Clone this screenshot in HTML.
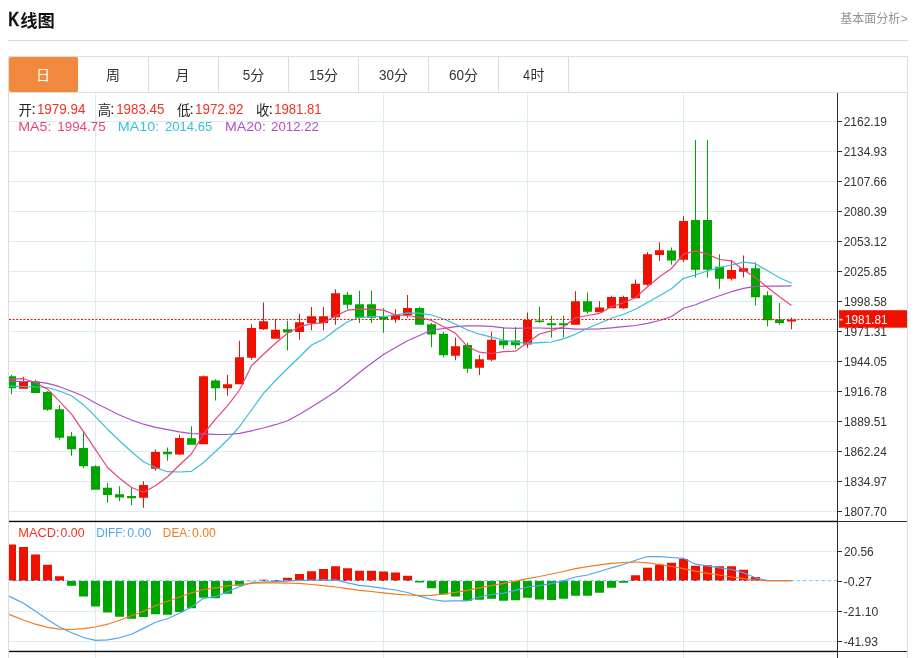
<!DOCTYPE html>
<html lang="zh-CN">
<head>
<meta charset="utf-8">
<title>K线图</title>
<style>
html,body{margin:0;padding:0;background:#fff;}
body{width:918px;height:658px;overflow:hidden;position:relative;font-family:"Liberation Sans",sans-serif;color:#333;}
.hd{position:absolute;left:8px;top:0;width:900px;height:40px;border-bottom:1px solid #d9d9d9;box-sizing:content-box;}
.tabs{position:absolute;left:8px;top:56px;width:898px;height:35px;margin:0;padding:0;list-style:none;border:1px solid #dddddd;}
.tabs li{float:left;width:69px;height:35px;border-right:1px solid #dddddd;}
.tabs li.on{background:#f0883e;border-right-color:#fff;border-radius:2px;width:69.3px;margin-right:-0.3px;}
.chart{position:absolute;left:8px;top:93px;width:898px;height:565px;border-left:1px solid #dddddd;border-right:1px solid #dddddd;}
.sr{position:absolute;width:1px;height:1px;margin:0;padding:0;overflow:hidden;clip:rect(0,0,0,0);white-space:nowrap;color:transparent;font-size:1px;}
.ov{position:absolute;left:0;top:0;will-change:transform;}
</style>
</head>
<body>
<div class="hd"><h2 class="sr">K线图</h2><a class="sr">基本面分析&gt;</a></div>
<ul class="tabs"><li class="on"><span class="sr">日</span></li><li><span class="sr">周</span></li><li><span class="sr">月</span></li><li><span class="sr">5分</span></li><li><span class="sr">15分</span></li><li><span class="sr">30分</span></li><li><span class="sr">60分</span></li><li><span class="sr">4时</span></li></ul>
<div class="chart"><p class="sr">开: 1979.94 高: 1983.45 低: 1972.92 收: 1981.81</p></div>
<svg class="ov" role="img" aria-label="K线图" width="918" height="658" viewBox="0 0 918 658" style="font-family:'Liberation Sans','Noto Sans CJK SC',sans-serif">
<g aria-label="K线图">
<text stroke="#111" stroke-width="0.35" x="8.2" y="25.9" font-size="20" fill="#111" textLength="10.84" lengthAdjust="spacingAndGlyphs" font-weight="bold">K</text>
<text x="20.3" y="26.6" font-size="17.5" font-weight="bold" fill="#111" textLength="34.6" lengthAdjust="spacingAndGlyphs">线图</text>
</g>
<g aria-label="基本面分析&gt;">
<text x="840.2" y="22.9" font-size="12" fill="#929292" textLength="60" lengthAdjust="spacingAndGlyphs">基本面分析</text>
<text x="900.72" y="22.9" font-size="12" fill="#999" textLength="6.85" lengthAdjust="spacingAndGlyphs">&gt;</text>
</g>
<g aria-label="日">
<text x="36" y="80" font-size="14" fill="#ffffff">日</text>
</g>
<g aria-label="周">
<text x="106" y="80" font-size="14" fill="#333333">周</text>
</g>
<g aria-label="月">
<text x="175.5" y="80" font-size="14" fill="#333333">月</text>
</g>
<g aria-label="5分">
<text x="242.81" y="80" font-size="14" fill="#333333" textLength="7.51" lengthAdjust="spacingAndGlyphs">5</text>
<text x="250.3" y="80" font-size="14" fill="#333333">分</text>
</g>
<g aria-label="15分">
<text x="309.07" y="80" font-size="14" fill="#333333" textLength="14.99" lengthAdjust="spacingAndGlyphs">15</text>
<text x="324" y="80" font-size="14" fill="#333333">分</text>
</g>
<g aria-label="30分">
<text x="379.09" y="80" font-size="14" fill="#333333" textLength="14.94" lengthAdjust="spacingAndGlyphs">30</text>
<text x="394" y="80" font-size="14" fill="#333333">分</text>
</g>
<g aria-label="60分">
<text x="448.91" y="80" font-size="14" fill="#333333" textLength="15.12" lengthAdjust="spacingAndGlyphs">60</text>
<text x="464" y="80" font-size="14" fill="#333333">分</text>
</g>
<g aria-label="4时">
<text x="523.06" y="80" font-size="14" fill="#333333" textLength="7.06" lengthAdjust="spacingAndGlyphs">4</text>
<text x="530.6" y="80" font-size="14" fill="#333333">时</text>
</g>
<g fill="#dceaf3"><rect x="9" y="121" width="828" height="1"/><rect x="9" y="151" width="828" height="1"/><rect x="9" y="181" width="828" height="1"/><rect x="9" y="211" width="828" height="1"/><rect x="9" y="241" width="828" height="1"/><rect x="9" y="271" width="828" height="1"/><rect x="9" y="301" width="828" height="1"/><rect x="9" y="331" width="828" height="1"/><rect x="9" y="361" width="828" height="1"/><rect x="9" y="391" width="828" height="1"/><rect x="9" y="421" width="828" height="1"/><rect x="9" y="451" width="828" height="1"/><rect x="9" y="481" width="828" height="1"/><rect x="9" y="511" width="828" height="1"/><rect x="9" y="551" width="828" height="1"/><rect x="9" y="611" width="828" height="1"/><rect x="9" y="641" width="828" height="1"/><rect x="95" y="93" width="1" height="565"/><rect x="383" y="93" width="1" height="565"/><rect x="527" y="93" width="1" height="565"/><rect x="683" y="93" width="1" height="565"/></g>
<defs><clipPath id="cp"><rect x="9" y="93" width="828" height="565"/></clipPath></defs>
<g clip-path="url(#cp)">
<path fill="#ee1100" d="M19 381.7h9V388.7h-9zM23 376.7h1V388.7h-1zM139 485h9V497.8h-9zM143 481.2h1V507.8h-1zM151 452h9V468.8h-9zM155 449.5h1V470.8h-1zM175 438h9V454.5h-9zM179 434.7h1V455h-1zM199 376.3h9V444.2h-9zM203 375.5h1V444.2h-1zM223 384.2h9V388.3h-9zM227 375h1V395.8h-1zM235 357.2h9V384.2h-9zM239 340.8h1V384.2h-1zM247 328h9V357.8h-9zM251 324.2h1V359.7h-1zM259 321.2h9V329.2h-9zM263 302.5h1V330h-1zM271 329.7h9V338.8h-9zM275 318.7h1V338.8h-1zM295 322.2h9V332h-9zM299 313.7h1V339.7h-1zM307 316.3h9V323h-9zM311 307h1V330.3h-1zM319 316.3h9V323h-9zM323 307h1V330.3h-1zM331 293.3h9V317.3h-9zM335 289.2h1V324.7h-1zM391 314.7h9V319.5h-9zM395 309.2h1V322.8h-1zM403 308h9V315.3h-9zM407 295h1V317.8h-1zM451 346.3h9V355.8h-9zM455 337.5h1V360.3h-1zM475 359.2h9V367.8h-9zM479 355h1V375h-1zM487 339.7h9V359.7h-9zM491 331.7h1V361.3h-1zM523 320h9V344.5h-9zM527 312.5h1V347.8h-1zM571 301.3h9V324.7h-9zM575 291.3h1V324.7h-1zM595 307.5h9V312.2h-9zM599 301.2h1V312.2h-1zM607 297h9V308.3h-9zM611 295.8h1V308.3h-1zM619 297h9V308.3h-9zM623 295.8h1V308.8h-1zM631 283.8h9V298.3h-9zM635 279.5h1V298.3h-1zM643 254.2h9V284.7h-9zM647 252.2h1V285.8h-1zM655 250.3h9V255h-9zM659 242.2h1V260.8h-1zM679 221h9V259.7h-9zM683 216.3h1V262h-1zM727 270h9V278.8h-9zM731 260h1V280.5h-1zM739 268.3h9V271.7h-9zM743 255.5h1V277.5h-1zM787 319.4h9V321.5h-9zM791 317.6h1V329.2h-1z"/>
<path fill="#00a600" d="M7 376.2h9V388.3h-9zM11 374.7h1V394.2h-1zM31 381.7h9V393h-9zM35 379.7h1V393h-1zM43 392h9V409.7h-9zM47 391h1V410.7h-1zM55 409.2h9V437.8h-9zM59 405h1V439.7h-1zM67 436.2h9V449.2h-9zM71 432h1V455.8h-1zM79 448h9V466.3h-9zM83 431.3h1V468.3h-1zM91 466.3h9V489.7h-9zM95 465.3h1V489.7h-1zM103 487.8h9V495h-9zM107 483h1V502.8h-1zM115 494.2h9V497.5h-9zM119 486.2h1V501.3h-1zM127 496h9V498.3h-9zM131 487.5h1V505h-1zM163 451.7h9V454.2h-9zM167 447.5h1V460.8h-1zM187 438.2h9V444.8h-9zM191 426.2h1V444.8h-1zM211 380.5h9V388.3h-9zM215 379.2h1V400.5h-1zM283 329.2h9V332.5h-9zM287 320.8h1V350.5h-1zM343 294.7h9V304.7h-9zM347 292h1V309.2h-1zM355 304.2h9V317.7h-9zM359 290.8h1V322.9h-1zM367 304.2h9V317.7h-9zM371 290.8h1V322.9h-1zM379 317h9V319.5h-9zM383 308.3h1V332.8h-1zM415 308h9V324.7h-9zM419 306.7h1V324.7h-1zM427 324.2h9V334.5h-9zM431 323h1V347.2h-1zM439 333.8h9V355.3h-9zM443 331.7h1V357.5h-1zM463 345h9V368.7h-9zM467 342.8h1V373h-1zM499 340.5h9V345.3h-9zM503 327.5h1V348.8h-1zM511 340.5h9V345.3h-9zM515 327h1V348.8h-1zM535 320.5h9V322h-9zM539 306.7h1V323h-1zM547 323.3h9V325.2h-9zM551 315.8h1V337.5h-1zM559 323.3h9V325.2h-9zM563 315.8h1V337.5h-1zM583 301.2h9V311.7h-9zM587 292.5h1V313.7h-1zM667 250.4h9V260.6h-9zM671 247.5h1V264.8h-1zM691 220h9V269.7h-9zM695 140h1V277.5h-1zM703 220h9V269.7h-9zM707 140h1V277.5h-1zM715 266.7h9V278.8h-9zM719 254.2h1V288.7h-1zM751 268.3h9V297.2h-9zM755 262.2h1V305.5h-1zM763 295.3h9V320.3h-9zM767 291.2h1V326.2h-1zM775 319.5h9V323h-9zM779 303h1V324.7h-1z"/>
<polyline fill="none" stroke="#b04fc4" stroke-width="1.2" stroke-linejoin="round" points="-0.5,381.2 11.5,381.3 23.5,381.5 35.5,381.7 47.5,383.3 59.5,386.7 71.5,391.3 83.5,396.3 95.5,403 107.5,409 119.5,415 131.5,420 143.5,424.2 155.5,427.3 167.5,429.6 179.5,431.8 191.5,433.7 203.5,433.8 215.5,434.3 227.5,434.5 239.5,433.3 251.5,430.8 263.5,428 275.5,424.7 287.5,420.8 299.5,414.2 311.5,407 323.5,399.5 335.5,391.7 347.5,382.3 359.5,372.5 371.5,363.3 383.5,354.6 395.5,347.5 407.5,340.8 419.5,335.5 431.5,330 443.5,328.7 455.5,326.7 467.5,325.8 479.5,325.8 491.5,326.3 503.5,327.8 515.5,328.3 527.5,328 539.5,328 551.5,328.3 563.5,328.2 575.5,329.2 587.5,329.2 599.5,328.8 611.5,327.8 623.5,326.7 635.5,325.5 647.5,323.3 659.5,320.5 671.5,316.5 683.5,308.3 695.5,304.7 707.5,300 719.5,295.8 731.5,291.7 743.5,288.3 755.5,286.3 767.5,286.2 779.5,286.2 791.5,285.9"/>
<polyline fill="none" stroke="#35bfd9" stroke-width="1.2" stroke-linejoin="round" points="-0.5,386 11.5,386.2 23.5,386.5 35.5,387 47.5,387.5 59.5,391 71.5,395.8 83.5,404.7 95.5,416.7 107.5,429.2 119.5,440.8 131.5,451.7 143.5,461.7 155.5,467.5 167.5,471.7 179.5,472 191.5,471.3 203.5,462.5 215.5,451.5 227.5,440 239.5,426.7 251.5,410 263.5,393.3 275.5,380.5 287.5,368.5 299.5,357 311.5,345 323.5,339.2 335.5,330 347.5,321.7 359.5,317.3 371.5,316.7 383.5,316.7 395.5,315 407.5,312.8 419.5,313.2 431.5,315 443.5,318.8 455.5,324.2 467.5,330 479.5,334.2 491.5,337.2 503.5,340 515.5,342.2 527.5,343.3 539.5,342.7 551.5,342 563.5,338.9 575.5,334.2 587.5,328.3 599.5,323.3 611.5,318.3 623.5,314.2 635.5,309.2 647.5,302.5 659.5,295.8 671.5,288.8 683.5,278.3 695.5,275 707.5,270.8 719.5,267.5 731.5,265 743.5,262.2 755.5,263.7 767.5,270.8 779.5,277.8 791.5,283.3"/>
<polyline fill="none" stroke="#e8447c" stroke-width="1.2" stroke-linejoin="round" points="-0.5,379.5 11.5,379.2 23.5,378.7 35.5,382.5 47.5,389.2 59.5,401.3 71.5,414.2 83.5,431.7 95.5,449.6 107.5,467.5 119.5,478.3 131.5,487.5 143.5,492.2 155.5,485.8 167.5,476.7 179.5,465 191.5,453.8 203.5,434 215.5,419.2 227.5,405.8 239.5,390 251.5,365.8 263.5,354.2 275.5,343.3 287.5,333.3 299.5,326.7 311.5,323.7 323.5,322.8 335.5,316.1 347.5,310.2 359.5,309.2 371.5,309.4 383.5,310.1 395.5,315 407.5,315.5 419.5,317.3 431.5,320.5 443.5,326.7 455.5,333.3 467.5,346.7 479.5,352.2 491.5,353.5 503.5,351.7 515.5,351.2 527.5,342.5 539.5,334 551.5,330.8 563.5,326.7 575.5,317.8 587.5,315.5 599.5,313.3 611.5,306.7 623.5,302.7 635.5,297.8 647.5,286.7 659.5,276.7 671.5,268.5 683.5,254.2 695.5,250.8 707.5,254.2 719.5,259.5 731.5,260.8 743.5,270 755.5,277.5 767.5,287.5 779.5,296.7 791.5,305.4"/>
<path fill="#ee1100" d="M7 544.5h9V581h-9zM19 547h9V581h-9zM31 554.5h9V581h-9zM43 564.8h9V581h-9zM55 576.2h9V581h-9zM259 579.7h9V581h-9zM271 580h9V581h-9zM283 577.8h9V581h-9zM295 574h9V581h-9zM307 571.2h9V581h-9zM319 569h9V581h-9zM331 566.2h9V581h-9zM343 568.3h9V581h-9zM355 570.7h9V581h-9zM367 570.8h9V581h-9zM379 571.5h9V581h-9zM391 572.5h9V581h-9zM403 575.8h9V581h-9zM631 575.3h9V581h-9zM643 567.8h9V581h-9zM655 564.5h9V581h-9zM667 562.8h9V581h-9zM679 559h9V581h-9zM691 565.8h9V581h-9zM703 565.3h9V581h-9zM715 566.2h9V581h-9zM727 566.2h9V581h-9zM739 569.8h9V581h-9zM751 577h9V581h-9z"/>
<path fill="#00a600" d="M67 581h9V585.8h-9zM79 581h9V596.5h-9zM91 581h9V606.5h-9zM103 581h9V612.5h-9zM115 581h9V616.7h-9zM127 581h9V618.7h-9zM139 581h9V617h-9zM151 581h9V614.2h-9zM163 581h9V614.8h-9zM175 581h9V612h-9zM187 581h9V608.3h-9zM199 581h9V597.8h-9zM211 581h9V598.2h-9zM223 581h9V593.7h-9zM235 581h9V585.8h-9zM247 581h9V581.2h-9zM415 581h9V582.5h-9zM427 581h9V588.3h-9zM439 581h9V594.5h-9zM451 581h9V596.5h-9zM463 581h9V600.8h-9zM475 581h9V599.8h-9zM487 581h9V598.7h-9zM499 581h9V600.7h-9zM511 581h9V600.3h-9zM523 581h9V597.8h-9zM535 581h9V599.5h-9zM547 581h9V600h-9zM559 581h9V598.7h-9zM571 581h9V595.7h-9zM583 581h9V595.8h-9zM595 581h9V592.8h-9zM607 581h9V587.8h-9zM619 581h9V582.8h-9z"/>
<line x1="9" x2="837" y1="580.6" y2="580.6" stroke="#7ccbef" stroke-width="1" stroke-dasharray="3.8 2.45"/>
<polyline fill="none" stroke="#4ea5f0" stroke-width="1.2" stroke-linejoin="round" points="-0.5,591.5 11.5,597.4 23.5,603.3 35.5,611.2 47.5,619.5 59.5,627 71.5,632.8 83.5,637.5 95.5,640.3 107.5,639.8 119.5,637.8 131.5,634.2 143.5,628.4 155.5,622.3 167.5,618.7 179.5,613.3 191.5,607 203.5,598.3 215.5,596.7 227.5,591.7 239.5,586.7 251.5,582.8 263.5,582 275.5,581.7 287.5,581.2 299.5,580.3 311.5,580 323.5,579.8 335.5,579.8 347.5,582.8 359.5,585.3 371.5,586.7 383.5,588.3 395.5,590 407.5,592.5 419.5,596.2 431.5,599.5 443.5,601.2 455.5,600.8 467.5,600.8 479.5,597 491.5,594.5 503.5,593.2 515.5,590.3 527.5,587 539.5,585.7 551.5,583.7 563.5,580.7 575.5,577 587.5,575 599.5,571.5 611.5,567.8 623.5,564.5 635.5,560.3 647.5,556.5 659.5,556.7 671.5,557.5 683.5,558.3 695.5,564.2 707.5,565.8 719.5,567.8 731.5,569.5 743.5,572.8 755.5,577.8 767.5,580.7 779.5,580.7 791.5,580.7"/>
<polyline fill="none" stroke="#f27a1e" stroke-width="1.2" stroke-linejoin="round" points="-0.5,610.9 11.5,615.4 23.5,620 35.5,624.2 47.5,627.3 59.5,629.2 71.5,629.5 83.5,628.7 95.5,627 107.5,624.2 119.5,620.3 131.5,615.8 143.5,611.2 155.5,605.7 167.5,601.2 179.5,597 191.5,592.8 203.5,589.5 215.5,587.8 227.5,585.8 239.5,584.5 251.5,583.3 263.5,582.8 275.5,582.8 287.5,583.2 299.5,583.3 311.5,584.5 323.5,585.7 335.5,587 347.5,588.7 359.5,590.3 371.5,591.5 383.5,592.8 395.5,594.2 407.5,595 419.5,595.7 431.5,595.3 443.5,594 455.5,592.3 467.5,590.3 479.5,587.8 491.5,585.7 503.5,583.3 515.5,581.2 527.5,578.7 539.5,576.5 551.5,574 563.5,571.5 575.5,568.7 587.5,566.7 599.5,564.8 611.5,563.3 623.5,562.5 635.5,562 647.5,562.8 659.5,564.5 671.5,566.5 683.5,568.7 695.5,571.2 707.5,573.3 719.5,575 731.5,577 743.5,578.7 755.5,580 767.5,580.7 779.5,580.7 791.5,580.7"/>
<line x1="9" x2="837" y1="319.5" y2="319.5" stroke="#ee1100" stroke-width="1.1" stroke-dasharray="2 1.6"/>
</g>
<g fill="#2a2a2a"><rect x="9" y="521" width="898" height="1"/><rect x="9" y="651" width="898" height="1"/><rect x="9" y="520.75" width="828" height="1.4" fill="#0c0c0c"/><rect x="9" y="650.75" width="828" height="1.4" fill="#0c0c0c"/><rect x="837" y="93" width="1" height="565"/><rect x="838" y="121" width="4" height="1"/><rect x="838" y="151" width="4" height="1"/><rect x="838" y="181" width="4" height="1"/><rect x="838" y="211" width="4" height="1"/><rect x="838" y="241" width="4" height="1"/><rect x="838" y="271" width="4" height="1"/><rect x="838" y="301" width="4" height="1"/><rect x="838" y="331" width="4" height="1"/><rect x="838" y="361" width="4" height="1"/><rect x="838" y="391" width="4" height="1"/><rect x="838" y="421" width="4" height="1"/><rect x="838" y="451" width="4" height="1"/><rect x="838" y="481" width="4" height="1"/><rect x="838" y="511" width="4" height="1"/><rect x="838" y="551" width="4" height="1"/><rect x="838" y="581" width="4" height="1"/><rect x="838" y="611" width="4" height="1"/><rect x="838" y="641" width="4" height="1"/></g>
<g><text x="843.7" y="125.8" font-size="12.4" fill="#333" textLength="43.27" lengthAdjust="spacingAndGlyphs">2162.19</text><text x="843.7" y="155.8" font-size="12.4" fill="#333" textLength="43.23" lengthAdjust="spacingAndGlyphs">2134.93</text><text x="843.7" y="185.8" font-size="12.4" fill="#333" textLength="43.23" lengthAdjust="spacingAndGlyphs">2107.66</text><text x="843.7" y="215.8" font-size="12.4" fill="#333" textLength="43.27" lengthAdjust="spacingAndGlyphs">2080.39</text><text x="843.7" y="245.8" font-size="12.4" fill="#333" textLength="43.31" lengthAdjust="spacingAndGlyphs">2053.12</text><text x="843.7" y="275.8" font-size="12.4" fill="#333" textLength="43.2" lengthAdjust="spacingAndGlyphs">2025.85</text><text x="843.89" y="305.8" font-size="12.4" fill="#333" textLength="43.02" lengthAdjust="spacingAndGlyphs">1998.58</text><text x="843.89" y="335.8" font-size="12.4" fill="#333" textLength="43.09" lengthAdjust="spacingAndGlyphs">1971.31</text><text x="843.89" y="365.8" font-size="12.4" fill="#333" textLength="43.01" lengthAdjust="spacingAndGlyphs">1944.05</text><text x="843.89" y="395.8" font-size="12.4" fill="#333" textLength="43.02" lengthAdjust="spacingAndGlyphs">1916.78</text><text x="843.89" y="425.8" font-size="12.4" fill="#333" textLength="43.09" lengthAdjust="spacingAndGlyphs">1889.51</text><text x="843.9" y="455.8" font-size="12.4" fill="#333" textLength="42.85" lengthAdjust="spacingAndGlyphs">1862.24</text><text x="843.89" y="485.8" font-size="12.4" fill="#333" textLength="43.11" lengthAdjust="spacingAndGlyphs">1834.97</text><text x="843.89" y="515.8" font-size="12.4" fill="#333" textLength="42.97" lengthAdjust="spacingAndGlyphs">1807.70</text><text x="843.9" y="555.8" font-size="12.4" fill="#333" textLength="29.82" lengthAdjust="spacingAndGlyphs">20.56</text><text x="843.65" y="585.8" font-size="12.4" fill="#333" textLength="28.28" lengthAdjust="spacingAndGlyphs">-0.27</text><text x="843.66" y="615.8" font-size="12.4" fill="#333" textLength="34.62" lengthAdjust="spacingAndGlyphs">-21.10</text><text x="843.66" y="645.8" font-size="12.4" fill="#333" textLength="34.27" lengthAdjust="spacingAndGlyphs">-41.93</text></g>
<rect x="839" y="310.2" width="68" height="17.5" fill="#ee1100"/>
<rect x="839.4" y="318.8" width="3.3" height="1.6" fill="#fff" fill-opacity="0.85"/>
<text x="845" y="324.3" font-size="12.4" fill="#fff" textLength="42.57" lengthAdjust="spacingAndGlyphs">1981.81</text>
<g aria-label="开: 1979.94">
<text x="18.5" y="114.6" font-size="13.4" fill="#222">开</text>
<text x="31.17" y="113.9" font-size="14" fill="#222" textLength="4.67" lengthAdjust="spacingAndGlyphs">:</text>
<text x="36.88" y="113.9" font-size="14" fill="#f03324" textLength="48.62" lengthAdjust="spacingAndGlyphs">1979.94</text>
</g>
<g aria-label="高: 1983.45">
<text x="97.7" y="114.6" font-size="13.4" fill="#222">高</text>
<text x="109.97" y="113.9" font-size="14" fill="#222" textLength="4.67" lengthAdjust="spacingAndGlyphs">:</text>
<text x="116.18" y="113.9" font-size="14" fill="#f03324" textLength="48.17" lengthAdjust="spacingAndGlyphs">1983.45</text>
</g>
<g aria-label="低: 1972.92">
<text x="177.1" y="114.6" font-size="13.4" fill="#222">低</text>
<text x="189.27" y="113.9" font-size="14" fill="#222" textLength="4.67" lengthAdjust="spacingAndGlyphs">:</text>
<text x="195.08" y="113.9" font-size="14" fill="#f03324" textLength="48.29" lengthAdjust="spacingAndGlyphs">1972.92</text>
</g>
<g aria-label="收: 1981.81">
<text x="256.1" y="114.6" font-size="13.4" fill="#222">收</text>
<text x="268.47" y="113.9" font-size="14" fill="#222" textLength="4.67" lengthAdjust="spacingAndGlyphs">:</text>
<text x="274.2" y="113.9" font-size="14" fill="#f03324" textLength="47.44" lengthAdjust="spacingAndGlyphs">1981.81</text>
</g>
<text x="18.23" y="131.3" font-size="13" fill="#e8447c" textLength="33.16" lengthAdjust="spacingAndGlyphs">MA5:</text>
<text x="57.28" y="131.3" font-size="13" fill="#e8447c" textLength="48.38" lengthAdjust="spacingAndGlyphs">1994.75</text>
<text x="117.72" y="131.3" font-size="13" fill="#35bfd9" textLength="41.49" lengthAdjust="spacingAndGlyphs">MA10:</text>
<text x="164.94" y="131.3" font-size="13" fill="#35bfd9" textLength="47.41" lengthAdjust="spacingAndGlyphs">2014.65</text>
<text x="225.04" y="131.3" font-size="13" fill="#b04fc4" textLength="40.85" lengthAdjust="spacingAndGlyphs">MA20:</text>
<text x="271.14" y="131.3" font-size="13" fill="#b04fc4" textLength="47.73" lengthAdjust="spacingAndGlyphs">2012.22</text>
<text x="18.35" y="537" font-size="12.5" fill="#f03324" textLength="41.32" lengthAdjust="spacingAndGlyphs">MACD:</text>
<text x="60.62" y="537" font-size="12.5" fill="#f03324" textLength="23.96" lengthAdjust="spacingAndGlyphs">0.00</text>
<text x="96.13" y="537" font-size="12.5" fill="#4ea5f0" textLength="29.66" lengthAdjust="spacingAndGlyphs">DIFF:</text>
<text x="127.31" y="537" font-size="12.5" fill="#4ea5f0" textLength="24.17" lengthAdjust="spacingAndGlyphs">0.00</text>
<text x="162.83" y="537" font-size="12.5" fill="#f27a1e" textLength="27.65" lengthAdjust="spacingAndGlyphs">DEA:</text>
<text x="192.02" y="537" font-size="12.5" fill="#f27a1e" textLength="23.75" lengthAdjust="spacingAndGlyphs">0.00</text>
</svg>
</body>
</html>
